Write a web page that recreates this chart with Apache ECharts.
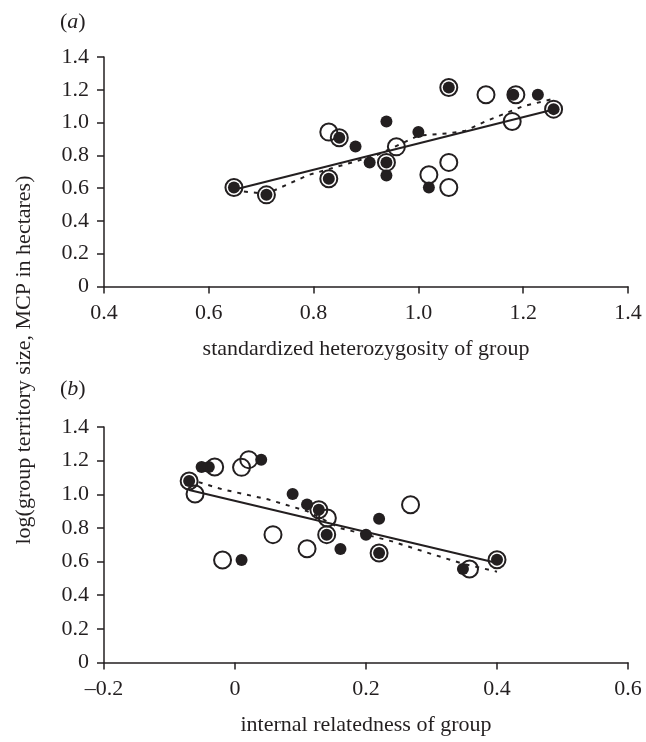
<!DOCTYPE html>
<html>
<head>
<meta charset="utf-8">
<script src="https://cdn.jsdelivr.net/npm/echarts@6/dist/echarts.min.js"></script>
<style>
html,body{margin:0;padding:0;background:#fff;}
#chart{width:646px;height:742px;}
</style>
</head>
<body>
<div id="chart"></div>
<script>
// Panel (a): standardized heterozygosity vs log territory size
const aFilled = [
  [0.648,0.604],[0.710,0.559],[0.829,0.657],[0.849,0.907],[0.939,0.757],
  [1.058,1.214],[1.258,1.082],[0.880,0.854],[0.939,1.007],[0.907,0.757],
  [0.939,0.677],[1.000,0.942],[1.020,0.604],[1.181,1.170],[1.228,1.170]
];
const aOpen = [
  [0.648,0.604],[0.710,0.559],[0.829,0.657],[0.849,0.907],[0.939,0.757],
  [1.058,1.214],[1.258,1.082],[0.829,0.942],[0.958,0.852],[1.020,0.682],
  [1.129,1.170],[1.186,1.170],[1.179,1.007],[1.058,0.757],[1.058,0.604]
];
const aSolid = [[0.648,0.590],[1.258,1.080]];
const aDashed = [
  [0.648,0.585],[0.710,0.565],[0.790,0.680],[0.920,0.800],[1.000,0.920],
  [1.060,0.935],[1.090,0.950],[1.130,1.010],[1.200,1.100],[1.258,1.145]
];
// Panel (b): internal relatedness vs log territory size
const bFilled = [
  [-0.070,1.079],[-0.051,1.162],[-0.040,1.162],[0.040,1.206],[0.088,1.002],
  [0.110,0.940],[0.128,0.908],[0.010,0.609],[0.140,0.760],[0.161,0.675],
  [0.200,0.760],[0.220,0.855],[0.220,0.651],[0.348,0.556],[0.400,0.611]
];
const bOpen = [
  [-0.070,1.079],[-0.061,1.002],[-0.031,1.162],[0.010,1.160],[0.021,1.206],
  [0.058,0.760],[0.110,0.676],[-0.019,0.609],[0.128,0.908],[0.141,0.859],
  [0.140,0.760],[0.220,0.651],[0.268,0.938],[0.358,0.556],[0.400,0.611]
];
const bSolid = [[-0.070,1.025],[0.400,0.591]];
const bDashed = [
  [-0.070,1.090],[-0.020,1.030],[0.050,0.970],[0.110,0.900],[0.160,0.800],
  [0.240,0.720],[0.300,0.645],[0.350,0.585],[0.400,0.540]
];
const aXTicks = {min:0.4, max:1.4, step:0.2};
const bXTicks = {min:-0.2, max:0.6, step:0.2};
const yTicks = {min:0, max:1.4, step:0.2};
const xTitleA = 'standardized heterozygosity of group';
const xTitleB = 'internal relatedness of group';
const yTitle = 'log(group territory size, MCP in hectares)';

const INK = '#231f20';
const FONT = '"Liberation Serif", "Times New Roman", serif';
const FS = 22;

function fmt(v){
  if (Math.abs(v) < 1e-9) return '0';
  const s = Math.abs(v).toFixed(1);
  return v < 0 ? '\u20130' + s.slice(1) : s;
}
function xAxis(idx, t, name){
  return {
    type:'value', gridIndex:idx, min:t.min, max:t.max, interval:t.step,
    name:name, nameLocation:'middle', nameGap:52,
    nameTextStyle:{color:INK, fontFamily:FONT, fontSize:FS},
    axisLine:{show:true, onZero:false, lineStyle:{color:INK, width:1.5}},
    axisTick:{show:true, inside:false, length:7, lineStyle:{color:INK, width:1.5}},
    axisLabel:{color:INK, fontFamily:FONT, fontSize:FS, margin:16, formatter:fmt},
    splitLine:{show:false}
  };
}
function yAxis(idx){
  return {
    type:'value', gridIndex:idx, min:yTicks.min, max:yTicks.max, interval:yTicks.step,
    axisLine:{show:true, onZero:false, lineStyle:{color:INK, width:1.5}},
    axisTick:{show:true, inside:false, length:7, lineStyle:{color:INK, width:1.5}},
    axisLabel:{color:INK, fontFamily:FONT, fontSize:FS, margin:15, formatter:fmt},
    splitLine:{show:false}
  };
}
function scat(idx, data, filled){
  return {
    type:'scatter', xAxisIndex:idx, yAxisIndex:idx, data:data,
    symbol:'circle', symbolSize: filled ? 12 : 17,
    itemStyle: filled ? {color:INK, opacity:1} : {color:'rgba(0,0,0,0)', borderColor:INK, borderWidth:2, opacity:1},
    z: filled ? 3 : 4, silent:true
  };
}
function line(idx, data, dashed){
  return {
    type:'line', xAxisIndex:idx, yAxisIndex:idx, data:data, showSymbol:false, symbol:'none',
    lineStyle:{color:INK, width:2, type: dashed ? [4,6] : 'solid'}, z:2, silent:true
  };
}

const chart = echarts.init(document.getElementById('chart'), null, {renderer:'canvas'});
chart.setOption({
  backgroundColor:'#fff',
  animation:false,
  grid:[
    {left:104, right:18, top:57, height:229.5, containLabel:false},
    {left:104, right:18, top:427, height:235.5, containLabel:false}
  ],
  xAxis:[xAxis(0, aXTicks, xTitleA), xAxis(1, bXTicks, xTitleB)],
  yAxis:[yAxis(0), yAxis(1)],
  series:[
    line(0, aSolid, false), line(0, aDashed, true),
    scat(0, aFilled, true), scat(0, aOpen, false),
    line(1, bSolid, false), line(1, bDashed, true),
    scat(1, bFilled, true), scat(1, bOpen, false)
  ],
  graphic:[
    {type:'text', left:60, top:11, style:{text:'({i|a})', fill:INK, font:FS+'px '+FONT,
      rich:{i:{fontStyle:'italic', fontFamily:FONT, fontSize:FS, fill:INK}}}},
    {type:'text', left:60, top:378, style:{text:'({i|b})', fill:INK, font:FS+'px '+FONT,
      rich:{i:{fontStyle:'italic', fontFamily:FONT, fontSize:FS, fill:INK}}}},
    {type:'text', x:24, y:360, rotation:Math.PI/2,
      style:{text:yTitle, fill:INK, font:FS+'px '+FONT, textAlign:'center', textVerticalAlign:'middle'}}
  ]
});
</script>
</body>
</html>
